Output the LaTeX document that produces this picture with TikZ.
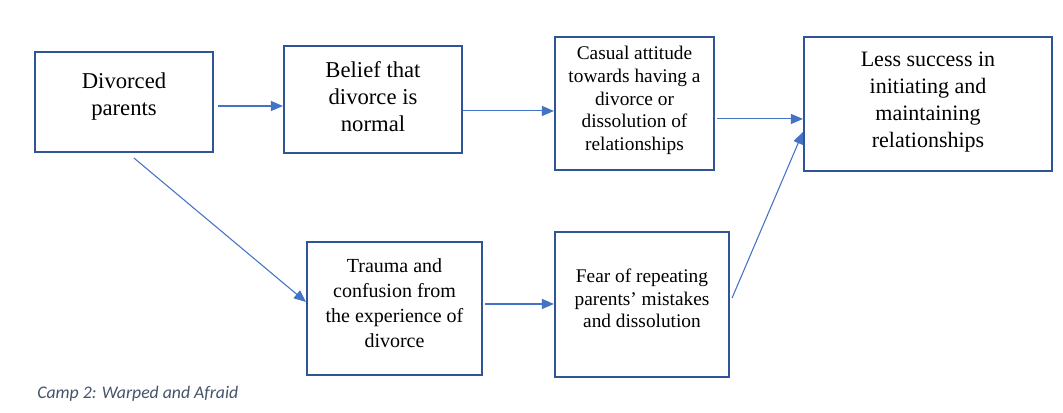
\documentclass[tikz,border=0pt]{standalone}
\usepackage{fontspec}
\setmainfont{Liberation Serif}
\newfontfamily\capfont{Carlito}
\usepackage{tikz}
\usetikzlibrary{positioning, arrows.meta}
\usepackage{xcolor}
\definecolor{boxblue}{HTML}{2F5597}
\definecolor{arrblue}{HTML}{4472C4}
\definecolor{capgray}{HTML}{44546A}

\begin{document}
\begin{tikzpicture}[x=0.75pt, y=-0.75pt,
                  box/.style={draw=boxblue, line width=1.6pt, fill=white, inner sep=0pt},
                  txt/.style={align=center, inner sep=0pt, text=black},
                  big/.style={font=\fontsize{17}{20.25}\selectfont},
                  mid/.style={font=\fontsize{15}{18.75}\selectfont},
                  sml/.style={font=\fontsize{14.5}{17}\selectfont},
                  arr/.style={draw=arrblue, line width=0.8pt,
                              -{Triangle[length=9pt, width=7.5pt]}, arrblue},
            ]
            \useasboundingbox (0,0) rectangle (1063,413);

            % ---- boxes (top row) ----
            \node[box, minimum width=133.5pt, minimum height=75pt]    (dp) at (124,102)   {};
            \node[box, minimum width=133.5pt, minimum height=80.25pt] (bl) at (373,99.5)  {};
            \node[box, minimum width=119.25pt, minimum height=99.75pt] (ca) at (634.5,103.5) {};
            \node[box, minimum width=186pt, minimum height=100.5pt]   (ls) at (928,104)   {};
            % ---- boxes (bottom row) ----
            \node[box, minimum width=131.25pt, minimum height=99.75pt] (tr) at (394.5,308.5) {};
            \node[box, minimum width=130.5pt, minimum height=108.75pt] (fe) at (642,304.5)   {};

            % ---- box texts ----
            \node[txt, big] (dp-t) at ([yshift=3.8pt]dp.center)  {Divorced\\parents};
            \node[txt, big] (bl-t) at ([yshift=2pt]bl.center)    {Belief that\\divorce is\\normal};
            \node[txt, sml] (ca-t) at ([yshift=2.2pt]ca.center)  {Casual attitude\\towards having a\\divorce or\\dissolution of\\relationships};
            \node[txt, font=\fontsize{16.5}{20.25}\selectfont]
                            (ls-t) at ([yshift=1.5pt]ls.center)  {Less success in\\initiating and\\maintaining\\relationships};
            \node[txt, mid] (tr-t) at ([yshift=3.75pt]tr.center) {Trauma and\\confusion from\\the experience of\\divorce};
            \node[txt, sml] (fe-t) at ([yshift=4.5pt]fe.center)  {Fear of repeating\\parents' mistakes\\and dissolution};

            % ---- connectors ----
            \draw[arr] ([xshift=3pt, yshift=-3pt]dp.east) -- ([yshift=-3pt]dp.east -| bl.west);
            \draw[arr] ([yshift=-8.6pt]bl.east) -- ([yshift=-8.6pt]bl.east -| ca.west);
            \draw[arr] ([xshift=1.5pt, yshift=-11.6pt]ca.east) -- ([yshift=-11.6pt]ca.east -| ls.west);
            \draw[arr] ([xshift=7.5pt, yshift=-3.75pt]dp.south) -- ([yshift=4.9pt]tr.west);
            \draw[arr] ([xshift=1.5pt, yshift=3.4pt]tr.east) -- ([yshift=3.4pt]tr.east -| fe.west);
            \draw[arr] ([xshift=1.5pt, yshift=4.9pt]fe.east) -- ([yshift=-21pt]ls.west);

            % ---- caption ----
            \node[font=\capfont\itshape\fontsize{13.3}{15}\selectfont, text=capgray,
                  anchor=west, inner sep=0pt] (cap) at (37,394) {Camp 2: Warped and Afraid};

      \end{tikzpicture}
\end{document}
